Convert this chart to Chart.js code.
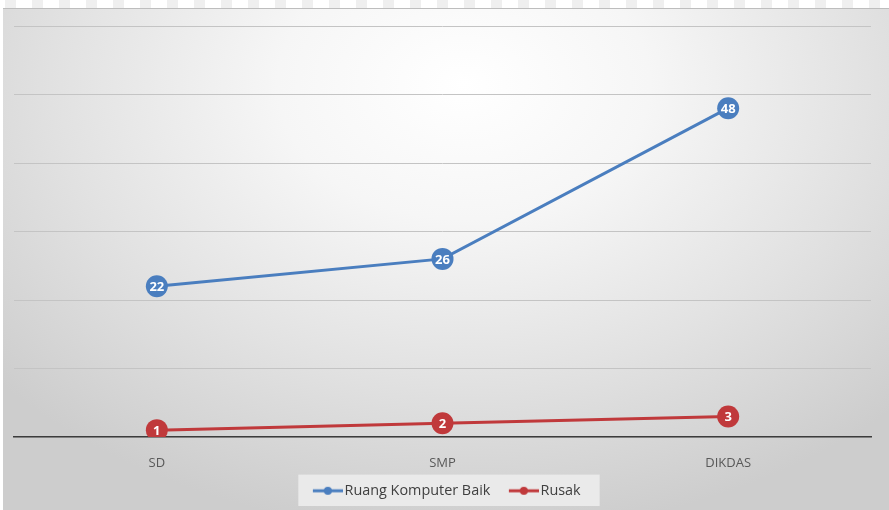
<!DOCTYPE html>
<html lang="id">
<head>
<meta charset="UTF-8">
<title>Ruang Komputer</title>
<script src="https://cdn.jsdelivr.net/npm/chart.js"></script>
<style>
  html, body { margin: 0; padding: 0; background: #fff; }
  body { width: 889px; height: 510px; position: relative; overflow: hidden; }
  .strip {
    position: absolute; left: 0; top: 0; width: 889px; height: 8px;
    background: repeating-linear-gradient(90deg, #fff 0 5px, #efefef 5px 16px, #fff 16px 27px);
  }
  .box {
    position: absolute; left: 3px; top: 8px; width: 886px; height: 502px;
    border-top: 1px solid #bdbdbd; box-sizing: border-box;
    background: radial-gradient(ellipse 70% 90% at 52% 15%, #ffffff 0%, #f6f6f6 30%, #e2e2e2 65%, #cdcdcd 100%);
  }
  canvas { display: block; }
</style>
</head>
<body>
<div class="strip"></div>
<div class="box">
  <canvas id="chart" width="886" height="501"></canvas>
</div>
<script>
  const categories = ["SD", "SMP", "DIKDAS"];
  const baik = [22, 26, 48];
  const rusak = [1, 2, 3];
  const seriesNames = ["Ruang Komputer Baik", "Rusak"];
  const colors = ["#4a7ebf", "#c0393b"];

  // legend marker: line with a dot, placed in the right part of a wider image
  function legendMark(color) {
    const c = document.createElement("canvas");
    c.width = 46; c.height = 10;
    const g = c.getContext("2d");
    g.strokeStyle = color; g.lineWidth = 3;
    g.beginPath(); g.moveTo(16, 5); g.lineTo(46, 5); g.stroke();
    g.fillStyle = color;
    g.beginPath(); g.arc(31, 5, 4, 0, Math.PI * 2); g.fill();
    return c;
  }

  const pointLabels = {
    id: "pointLabels",
    afterDatasetsDraw(chart) {
      const ctx = chart.ctx;
      ctx.save();
      ctx.fillStyle = "#fff";
      ctx.font = "bold 13px 'Open Sans', sans-serif";
      ctx.textAlign = "center";
      ctx.textBaseline = "middle";
      chart.data.datasets.forEach((ds, i) => {
        chart.getDatasetMeta(i).data.forEach((pt, j) => {
          ctx.fillText(ds.data[j], pt.x, pt.y + 1);
        });
      });
      ctx.restore();
    }
  };

  const legendBg = {
    id: "legendBg",
    beforeDraw(chart) {
      const boxes = chart.legend.legendHitBoxes;
      if (!boxes || !boxes.length) return;
      const l = Math.min(...boxes.map(b => b.left)) - 4;
      const r = Math.max(...boxes.map(b => b.left + b.width)) + 19;
      const t = boxes[0].top - 9;
      const ctx = chart.ctx;
      ctx.save();
      ctx.fillStyle = "rgba(236,236,236,0.9)";
      ctx.fillRect(l, t, r - l, boxes[0].height + 17);
      ctx.restore();
    }
  };

  new Chart(document.getElementById("chart"), {
    type: "line",
    data: {
      labels: categories,
      datasets: [
        { label: seriesNames[0], data: baik, borderColor: colors[0], backgroundColor: colors[0],
          borderWidth: 3, pointRadius: 11, pointHoverRadius: 11, pointBorderWidth: 0, tension: 0 },
        { label: seriesNames[1], data: rusak, borderColor: colors[1], backgroundColor: colors[1],
          borderWidth: 3, pointRadius: 11, pointHoverRadius: 11, pointBorderWidth: 0, tension: 0 }
      ]
    },
    options: {
      responsive: false,
      animation: false,
      layout: { padding: { top: 17, left: 9, right: 18, bottom: 2 } },
      scales: {
        x: {
          offset: true,
          grid: { display: false },
          border: { color: "#3c3c3c", width: 1.5 },
          ticks: { color: "#595959", padding: 10, font: { size: 13, family: "'Open Sans', sans-serif" } },
          afterFit(scale) { scale.height -= 5; }
        },
        y: {
          min: 0, max: 60,
          ticks: { display: false, stepSize: 10 },
          border: { display: false },
          grid: { color: "#c4c4c4", drawTicks: false }
        }
      },
      plugins: {
        legend: {
          position: "bottom",
          labels: {
            usePointStyle: true,
            pointStyleWidth: 35,
            color: "#404040",
            padding: 8,
            font: { size: 14.4, family: "'Open Sans', sans-serif" },
            generateLabels(chart) {
              const items = Chart.defaults.plugins.legend.labels.generateLabels(chart);
              items.forEach((it, i) => { it.pointStyle = legendMark(colors[i]); });
              return items;
            }
          }
        },
        tooltip: { enabled: false }
      }
    },
    plugins: [legendBg, pointLabels]
  });
</script>
</body>
</html>
